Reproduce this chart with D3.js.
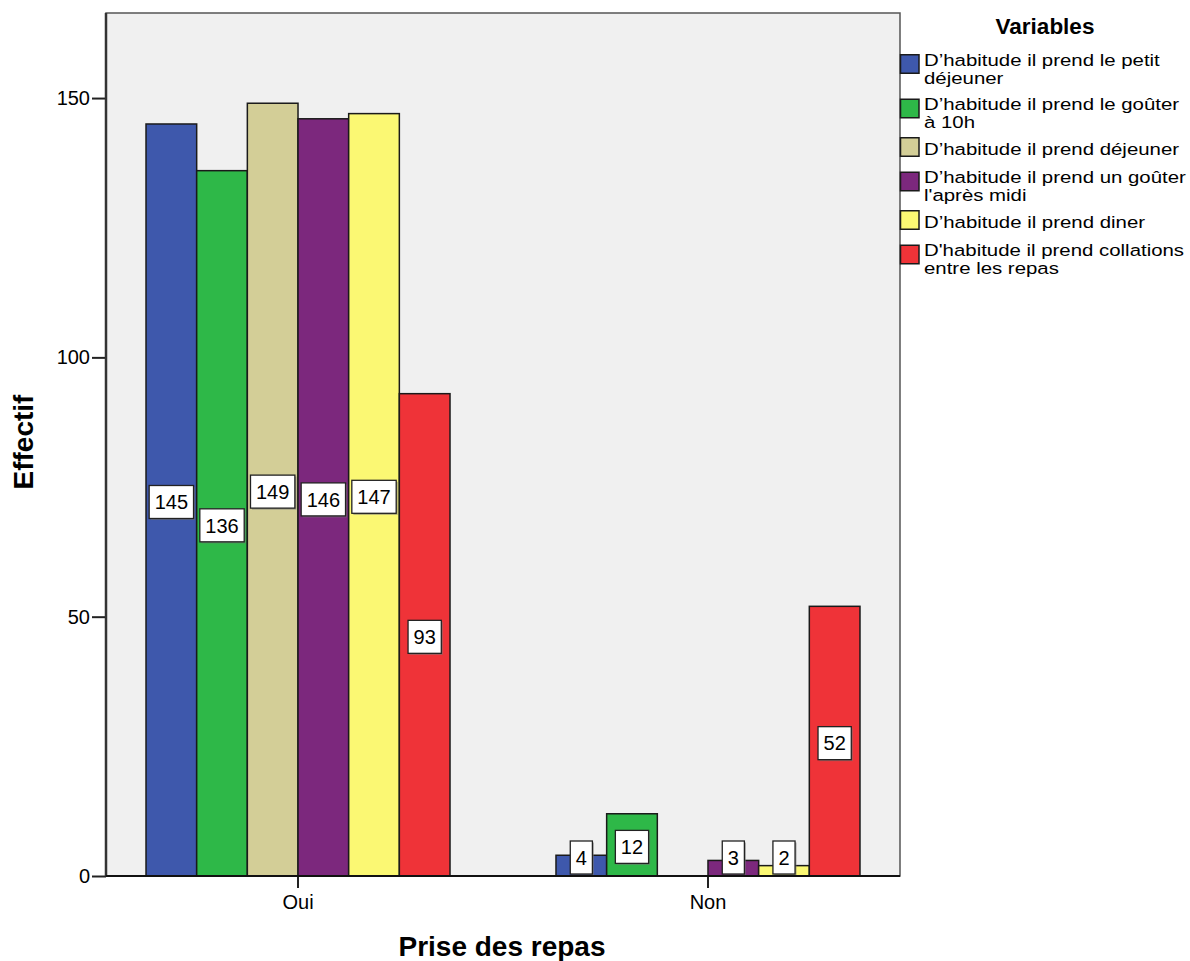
<!DOCTYPE html>
<html>
<head>
<meta charset="utf-8">
<script src="https://cdn.jsdelivr.net/npm/d3@7"></script>
<style>
  html, body { margin: 0; padding: 0; background: #ffffff; }
  svg { display: block; }
  text { font-family: "Liberation Sans", Arial, sans-serif; fill: #000; }
</style>
</head>
<body>
<svg id="chart" width="1190" height="961"></svg>
<script>
// Categories on the x axis
const categories = ["Oui", "Non"];

// Series (one per meal variable), legend labels split into lines
const seriesNames = [
  "D’habitude il prend le petit déjeuner",
  "D’habitude il prend le goûter à 10h",
  "D’habitude il prend déjeuner",
  "D’habitude il prend un goûter l'après midi",
  "D’habitude il prend diner",
  "D'habitude il prend collations entre les repas"
];
const legendLines = [
  ["D’habitude il prend le petit", "déjeuner"],
  ["D’habitude il prend le goûter", "à 10h"],
  ["D’habitude il prend déjeuner"],
  ["D’habitude il prend un goûter", "l'après midi"],
  ["D’habitude il prend diner"],
  ["D'habitude il prend collations", "entre les repas"]
];
const seriesColors = ["#3e58ac", "#2eb848", "#d3ce97", "#7c287d", "#fbf873", "#ef3338"];

// Counts per series: [Oui, Non]
const valuesOui = [145, 136, 149, 146, 147, 93];
const valuesNon = [4, 12, 0, 3, 2, 52];

const yTicks = [0, 50, 100, 150];

const yTitle = "Effectif";
const xTitle = "Prise des repas";
const legendTitle = "Variables";

// Build flat records from the arrays
const rows = [];
categories.forEach((cat, ci) => {
  const vals = ci === 0 ? valuesOui : valuesNon;
  seriesNames.forEach((s, si) => rows.push({ cat, series: s, si, value: vals[si] }));
});

const svg = d3.select("#chart");
const plot = { left: 106, right: 900, top: 13, bottom: 876 };

const x = d3.scaleBand()
  .domain(categories)
  .range([plot.left, plot.right])
  .paddingInner(0.2585)
  .paddingOuter(0.0976);

const xs = d3.scaleBand()
  .domain(d3.range(seriesNames.length))
  .range([0, x.bandwidth()]);

const y = d3.scaleLinear()
  .domain([0, 166.4])
  .range([plot.bottom, plot.top]);

// Plot background and frame
svg.append("rect")
  .attr("x", plot.left).attr("y", plot.top)
  .attr("width", plot.right - plot.left).attr("height", plot.bottom - plot.top)
  .attr("fill", "#f0f0f0")
  .attr("stroke", "#555").attr("stroke-width", 1.5);

// Bars
svg.append("g").selectAll("rect")
  .data(rows.filter(d => d.value > 0))
  .join("rect")
  .attr("x", d => x(d.cat) + xs(d.si))
  .attr("y", d => y(d.value))
  .attr("width", xs.bandwidth())
  .attr("height", d => y(0) - y(d.value))
  .attr("fill", d => seriesColors[d.si])
  .attr("stroke", "#1a1a1a")
  .attr("stroke-width", 1.5);

// Value labels in boxes at mid-height of each bar
const boxH = 33;
const labels = svg.append("g").selectAll("g")
  .data(rows.filter(d => d.value > 0))
  .join("g")
  .attr("transform", d => {
    const cx = x(d.cat) + xs(d.si) + xs.bandwidth() / 2;
    let cy = (y(d.value) + y(0)) / 2 + 2;
    cy = Math.min(cy, y(0) - 2 - boxH / 2);
    return `translate(${cx},${cy})`;
  });

labels.each(function(d) {
  const g = d3.select(this);
  const t = g.append("text")
    .attr("text-anchor", "middle")
    .attr("dy", "0.36em")
    .style("font-size", "20px")
    .text(d.value);
  const w = t.node().getComputedTextLength() + 11;
  g.insert("rect", "text")
    .attr("x", -w / 2 + 1.5).attr("y", -boxH / 2 + 1.5)
    .attr("width", w).attr("height", boxH)
    .attr("fill", "#777").attr("opacity", 0.6);
  g.insert("rect", "text")
    .attr("x", -w / 2).attr("y", -boxH / 2)
    .attr("width", w).attr("height", boxH)
    .attr("fill", "#fff")
    .attr("stroke", "#222").attr("stroke-width", 1.3);
});

// Y axis
const yAxis = svg.append("g")
  .attr("transform", `translate(${plot.left},0)`)
  .call(d3.axisLeft(y).tickValues(yTicks).tickSize(14).tickPadding(2).tickFormat(d3.format("d")));
yAxis.select(".domain").remove();
yAxis.selectAll(".tick line").attr("stroke", "#222").attr("stroke-width", 2);
yAxis.selectAll(".tick text").style("font-size", "20px").style("font-family", "Liberation Sans, Arial, sans-serif").attr("fill", "#000");
svg.append("line")
  .attr("x1", plot.left).attr("x2", plot.left)
  .attr("y1", plot.top).attr("y2", plot.bottom)
  .attr("stroke", "#333").attr("stroke-width", 2.5);

// X axis
const xAxis = svg.append("g")
  .attr("transform", `translate(0,${plot.bottom})`)
  .call(d3.axisBottom(x).tickSize(12).tickPadding(7));
xAxis.select(".domain").remove();
xAxis.selectAll(".tick line").attr("stroke", "#222").attr("stroke-width", 2);
xAxis.selectAll(".tick text").style("font-size", "20px").style("font-family", "Liberation Sans, Arial, sans-serif").attr("fill", "#000");
svg.append("line")
  .attr("x1", plot.left).attr("x2", plot.right)
  .attr("y1", plot.bottom).attr("y2", plot.bottom)
  .attr("stroke", "#111").attr("stroke-width", 2);

// Axis titles
svg.append("text")
  .attr("x", 502).attr("y", 956)
  .attr("text-anchor", "middle")
  .style("font-size", "28px").style("font-weight", "bold")
  .text(xTitle);

svg.append("text")
  .attr("transform", "translate(33,442) rotate(-90)")
  .attr("text-anchor", "middle")
  .style("font-size", "28px").style("font-weight", "bold")
  .text(yTitle);

// Legend
const legend = svg.append("g");
legend.append("text")
  .attr("x", 1045).attr("y", 34)
  .attr("text-anchor", "middle")
  .style("font-size", "22.5px").style("font-weight", "bold")
  .text(legendTitle);

// Legend entries: slightly widened text, swatch beside the first line
let baseline = 65.5;
const lineGap = 18;
legendLines.forEach((lines, i) => {
  const sw = 18.5;
  const cy = baseline - (lines.length === 1 ? 7.5 : 1.5);
  legend.append("rect")
    .attr("x", 900.5).attr("y", cy - sw / 2)
    .attr("width", sw).attr("height", sw)
    .attr("fill", seriesColors[i])
    .attr("stroke", "#1a1a1a").attr("stroke-width", 1.5);
  lines.forEach((ln, li) => {
    legend.append("text")
      .attr("transform", `translate(924,${baseline + li * lineGap}) scale(1.2,1)`)
      .style("font-size", "17px")
      .text(ln);
  });
  baseline += lines.length === 2 ? 44.5 : 28.5;
});
</script>
</body>
</html>
